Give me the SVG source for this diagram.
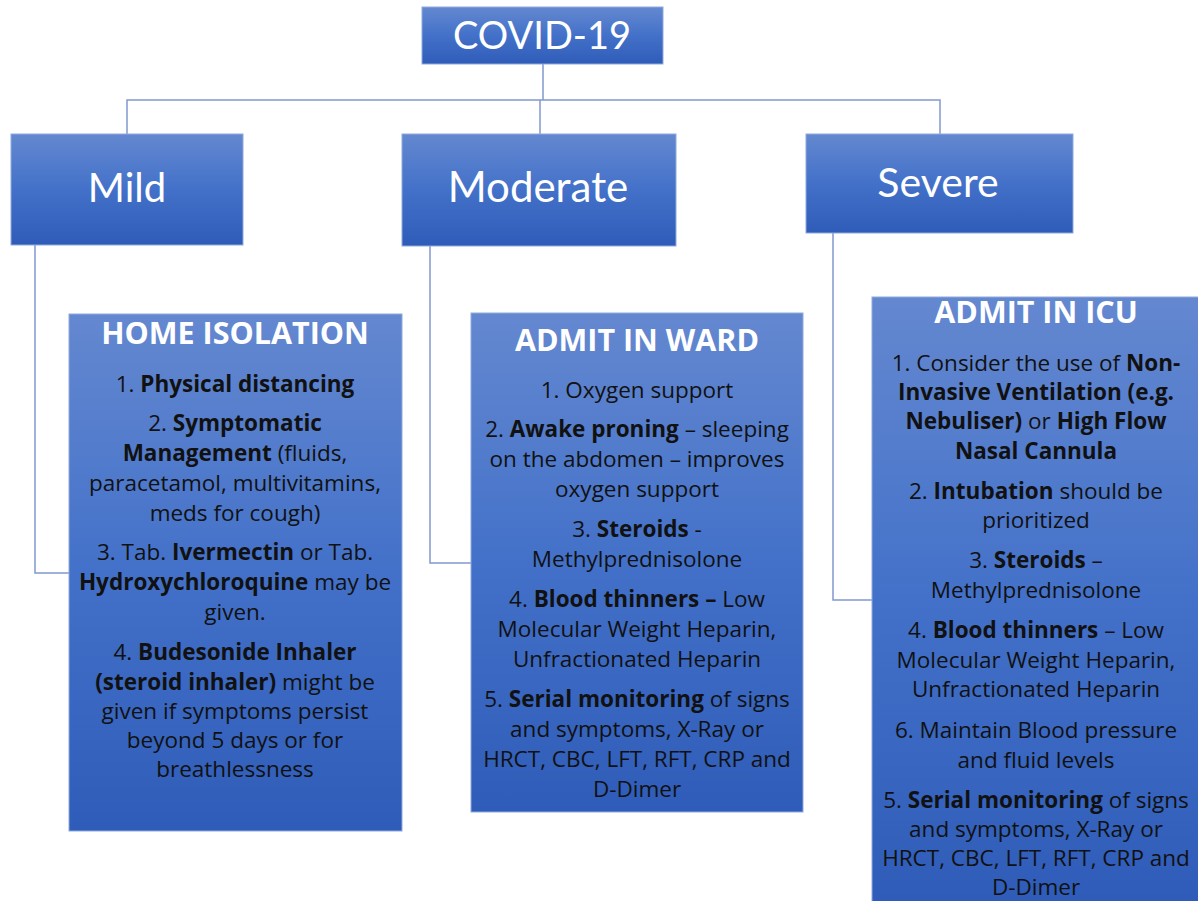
<svg xmlns="http://www.w3.org/2000/svg" width="1198" height="901" viewBox="0 0 1198 901">
<defs>
<linearGradient id="g" x1="0" y1="0" x2="0" y2="1">
<stop offset="0" stop-color="#6488D0"/>
<stop offset="0.5" stop-color="#4371C9"/>
<stop offset="1" stop-color="#2E5CB8"/>
</linearGradient>
<style>
.box{fill:url(#g);stroke:#8FAADC;stroke-width:1}
.conn{fill:none;stroke:#8199CF;stroke-width:1.5}
.big{font-family:Lato,"Liberation Sans",sans-serif;fill:#fff;text-anchor:middle}
.hd{font-family:"Open Sans","Liberation Sans",sans-serif;font-weight:bold;font-size:30.5px;fill:#fff;text-anchor:middle}
.t{font-family:"Open Sans","Liberation Sans",sans-serif;font-size:22.5px;fill:#111;text-anchor:middle}
.b{font-weight:bold}
</style>
</defs>
<rect width="1198" height="901" fill="#fff"/>
<g id="connectors">
<path class="conn" d="M543 64 V100 M127 134 V100 H940 V134 M540 100 V134"/>
<path class="conn" d="M35 245 V573 H69"/>
<path class="conn" d="M430 246 V563 H471"/>
<path class="conn" d="M833 233 V600 H872"/>
</g>
<g id="covid">
<rect class="box" x="422" y="7" width="241" height="57"/>
<text class="big" x="542" y="49" font-size="38">COVID-19</text>
</g>
<g id="mild">
<rect class="box" x="11" y="134" width="232" height="111"/>
<text class="big" x="127" y="202" font-size="40">Mild</text>
</g>
<g id="moderate">
<rect class="box" x="402" y="134" width="274" height="112"/>
<text class="big" x="538" y="202" font-size="42">Moderate</text>
</g>
<g id="severe">
<rect class="box" x="806" y="134" width="267" height="99"/>
<text class="big" x="938" y="197" font-size="41">Severe</text>
</g>
<g id="home-isolation">
<rect class="box" x="69" y="314" width="333" height="517"/>
<text class="hd" x="235" y="344">HOME ISOLATION</text>
<text class="t" x="235" y="392">1. <tspan class="b">Physical distancing</tspan></text>
<text class="t" x="235" y="431">2. <tspan class="b">Symptomatic</tspan></text>
<text class="t" x="235" y="461"><tspan class="b">Management</tspan> (fluids,</text>
<text class="t" x="235" y="491">paracetamol, multivitamins,</text>
<text class="t" x="235" y="521">meds for cough)</text>
<text class="t" x="235" y="560">3. Tab. <tspan class="b">Ivermectin</tspan> or Tab.</text>
<text class="t" x="235" y="590"><tspan class="b">Hydroxychloroquine</tspan> may be</text>
<text class="t" x="235" y="620">given.</text>
<text class="t" x="235" y="660">4. <tspan class="b">Budesonide Inhaler</tspan></text>
<text class="t" x="235" y="690"><tspan class="b">(steroid inhaler)</tspan> might be</text>
<text class="t" x="235" y="719">given if symptoms persist</text>
<text class="t" x="235" y="748">beyond 5 days or for</text>
<text class="t" x="235" y="777">breathlessness</text>
</g>
<g id="admit-ward">
<rect class="box" x="471" y="313" width="332" height="499"/>
<text class="hd" x="637" y="351">ADMIT IN WARD</text>
<text class="t" x="637" y="398">1. Oxygen support</text>
<text class="t" x="637" y="437">2. <tspan class="b">Awake proning</tspan> – sleeping</text>
<text class="t" x="637" y="467">on the abdomen – improves</text>
<text class="t" x="637" y="497">oxygen support</text>
<text class="t" x="637" y="537">3. <tspan class="b">Steroids</tspan> -</text>
<text class="t" x="637" y="567">Methylprednisolone</text>
<text class="t" x="637" y="607">4. <tspan class="b">Blood thinners –</tspan> Low</text>
<text class="t" x="637" y="637">Molecular Weight Heparin,</text>
<text class="t" x="637" y="667">Unfractionated Heparin</text>
<text class="t" x="637" y="707">5. <tspan class="b">Serial monitoring</tspan> of signs</text>
<text class="t" x="637" y="737">and symptoms, X-Ray or</text>
<text class="t" x="637" y="767">HRCT, CBC, LFT, RFT, CRP and</text>
<text class="t" x="637" y="797">D-Dimer</text>
</g>
<g id="admit-icu">
<rect class="box" x="872" y="297" width="327" height="605"/>
<text class="hd" x="1036" y="323">ADMIT IN ICU</text>
<text class="t" x="1036" y="371">1. Consider the use of <tspan class="b">Non-</tspan></text>
<text class="t b" x="1036" y="400">Invasive Ventilation (e.g.</text>
<text class="t" x="1036" y="429"><tspan class="b">Nebuliser)</tspan> or <tspan class="b">High Flow</tspan></text>
<text class="t b" x="1036" y="459">Nasal Cannula</text>
<text class="t" x="1036" y="499">2. <tspan class="b">Intubation</tspan> should be</text>
<text class="t" x="1036" y="528">prioritized</text>
<text class="t" x="1036" y="568">3. <tspan class="b">Steroids</tspan> –</text>
<text class="t" x="1036" y="598">Methylprednisolone</text>
<text class="t" x="1036" y="638">4. <tspan class="b">Blood thinners</tspan> – Low</text>
<text class="t" x="1036" y="668">Molecular Weight Heparin,</text>
<text class="t" x="1036" y="697">Unfractionated Heparin</text>
<text class="t" x="1036" y="738">6. Maintain Blood pressure</text>
<text class="t" x="1036" y="768">and fluid levels</text>
<text class="t" x="1036" y="808">5. <tspan class="b">Serial monitoring</tspan> of signs</text>
<text class="t" x="1036" y="837">and symptoms, X-Ray or</text>
<text class="t" x="1036" y="866">HRCT, CBC, LFT, RFT, CRP and</text>
<text class="t" x="1036" y="895">D-Dimer</text>
</g>
</svg>
